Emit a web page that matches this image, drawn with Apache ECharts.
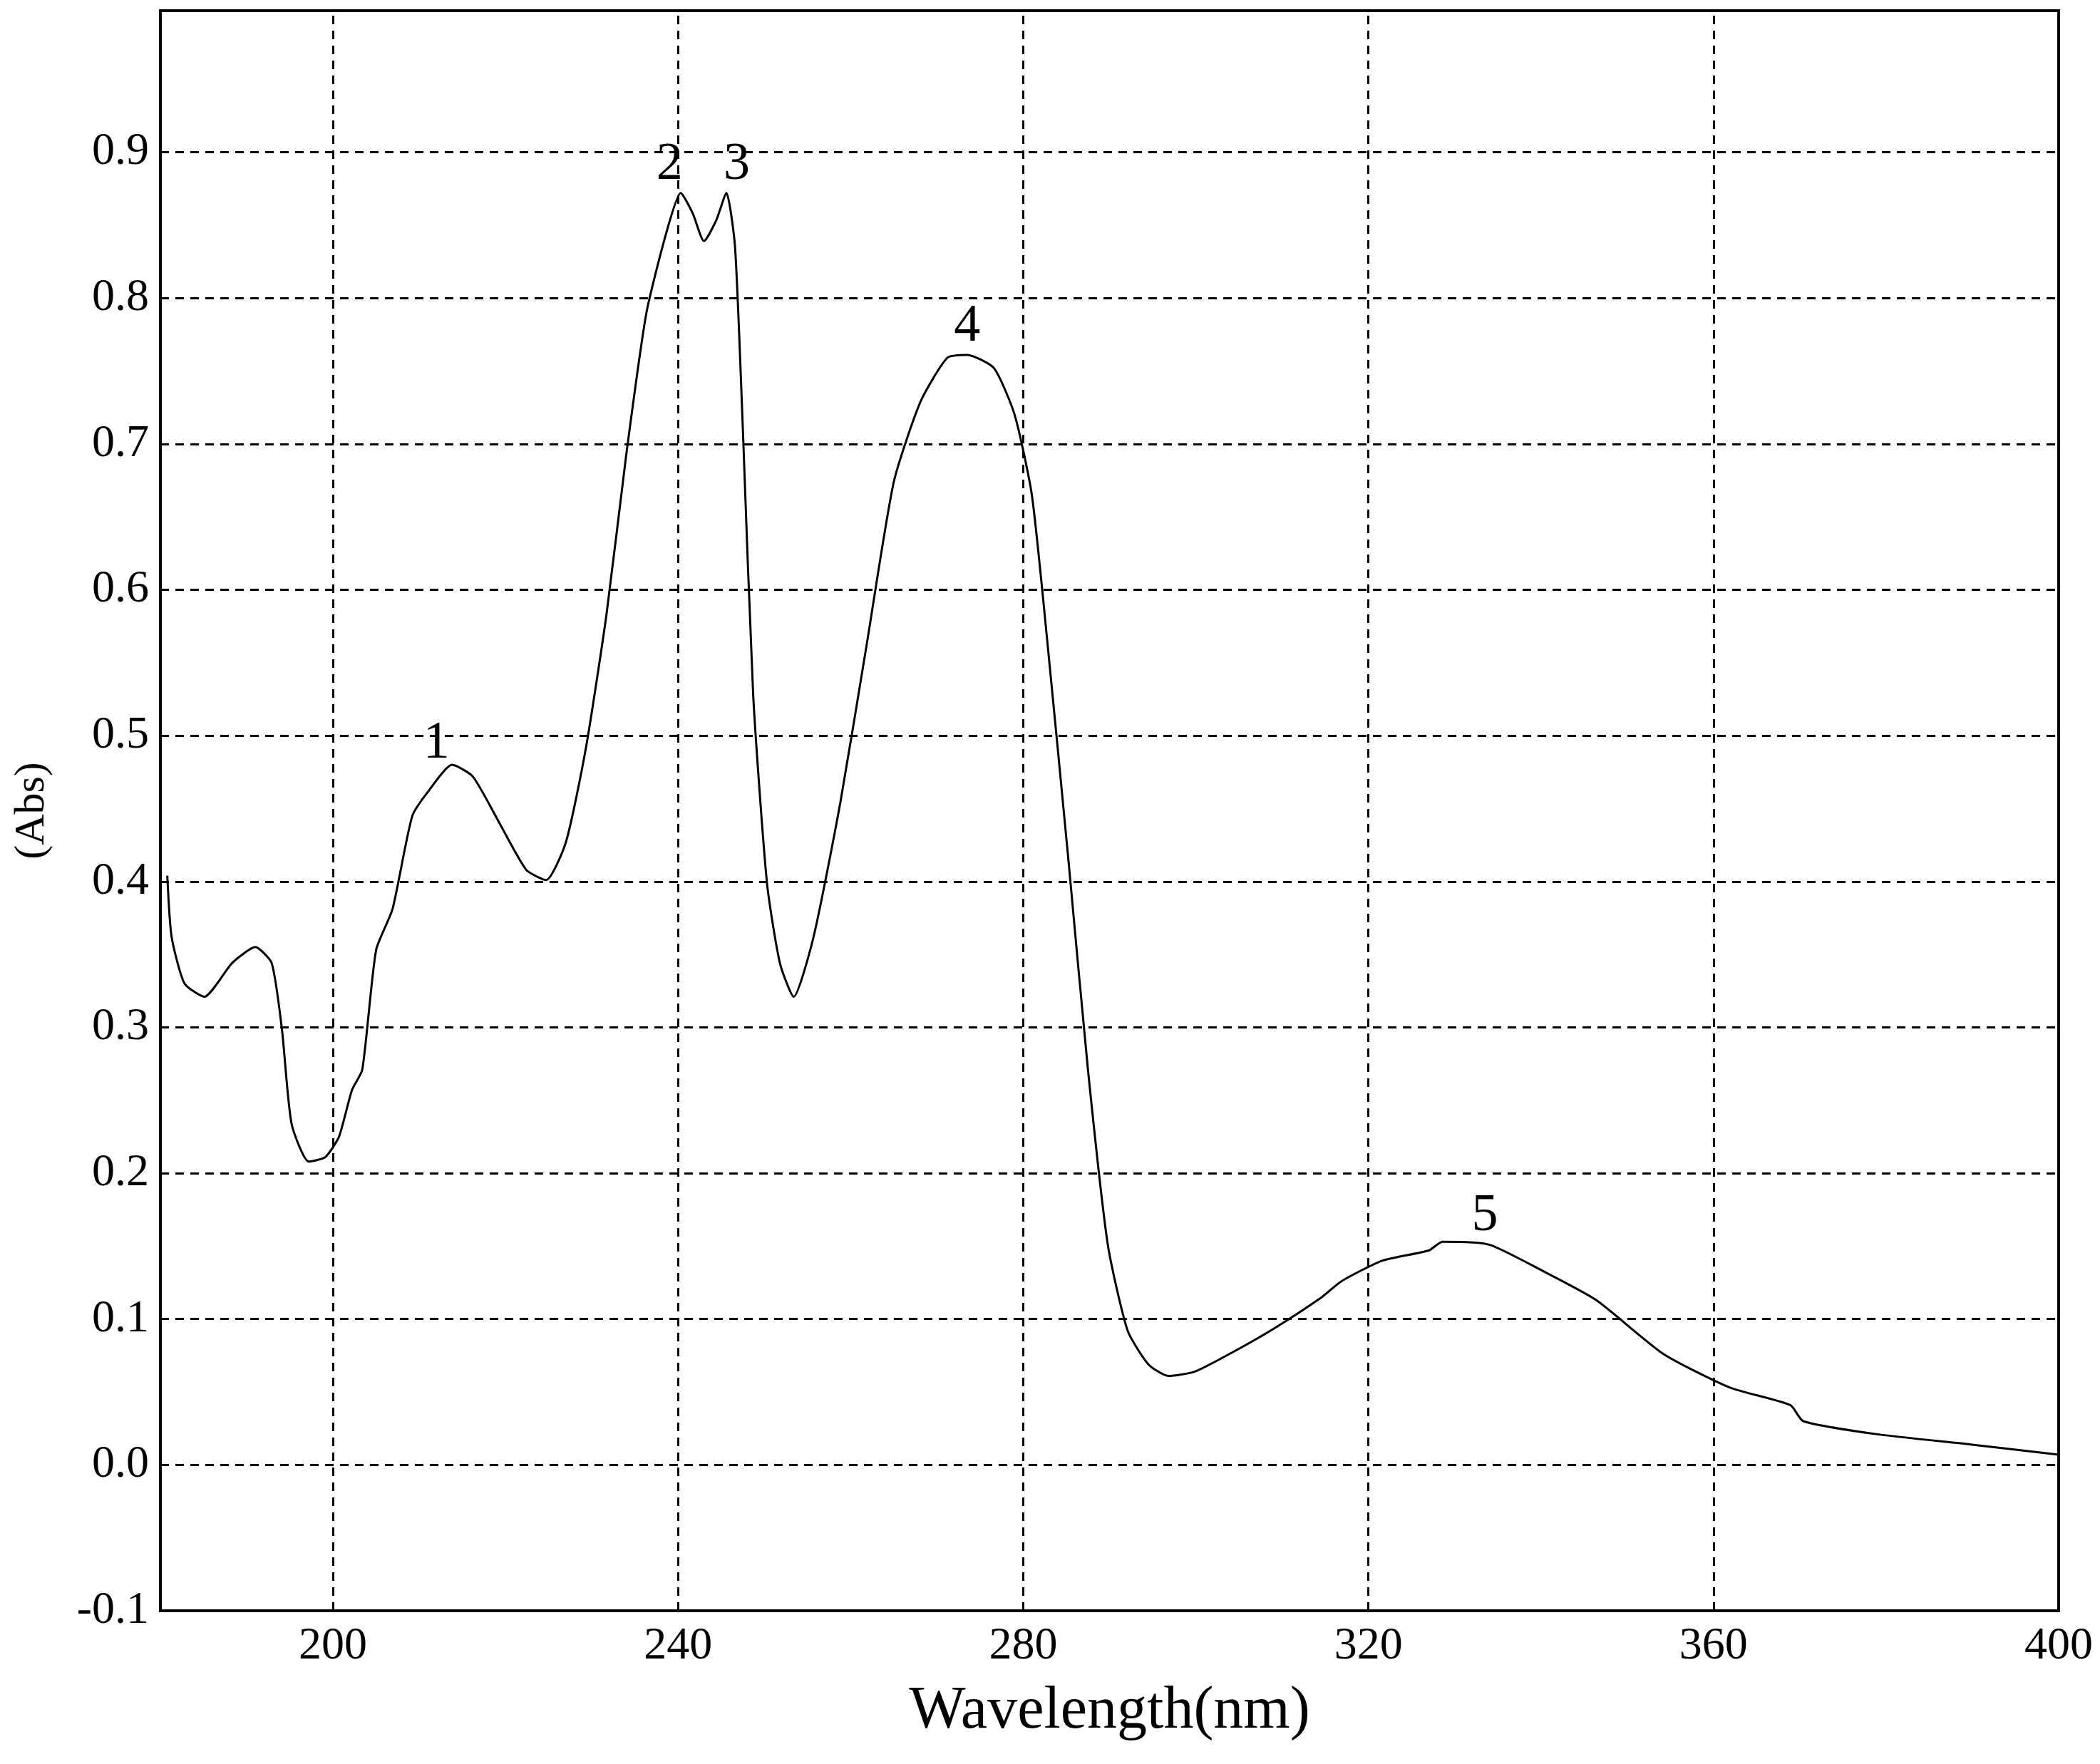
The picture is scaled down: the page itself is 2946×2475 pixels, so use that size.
<!DOCTYPE html>
<html>
<head>
<meta charset="utf-8">
<script src="https://cdn.jsdelivr.net/npm/echarts@6/dist/echarts.min.js"></script>
<style>html,body{margin:0;padding:0;background:#fff}#chart{width:2946px;height:2475px}</style>
</head>
<body>
<div id="chart"></div>
<script>
// spectrum
var wavelength = [180.8,181.3,182.8,185.1,188.3,191.0,192.9,194.1,195.2,197.2,199.1,200.7,202.2,203.4,205.0,206.9,209.2,211.2,213.8,216.2,219.3,222.4,224.7,227.0,229.3,231.7,234.0,236.3,238.6,240.3,241.7,243.0,244.4,245.6,246.6,247.5,248.7,250.3,251.8,253.4,255.7,258.8,261.9,265.0,268.1,271.2,273.5,276.6,279.0,281.0,282.8,285.2,287.5,289.8,292.1,294.5,296.8,299.9,304.5,309.2,314.6,316.9,321.6,327.0,328.6,334.0,340.2,346.4,354.2,361.9,368.9,370.4,379.0,389.8,400];
var absorbance = [0.404,0.362,0.330,0.321,0.344,0.355,0.344,0.298,0.234,0.208,0.211,0.225,0.257,0.271,0.353,0.381,0.445,0.463,0.480,0.472,0.440,0.408,0.401,0.427,0.491,0.583,0.693,0.789,0.844,0.872,0.858,0.839,0.853,0.872,0.835,0.711,0.528,0.399,0.344,0.321,0.362,0.454,0.564,0.674,0.729,0.759,0.761,0.752,0.720,0.665,0.564,0.417,0.271,0.151,0.092,0.069,0.061,0.064,0.078,0.094,0.115,0.126,0.140,0.147,0.153,0.151,0.133,0.113,0.076,0.053,0.041,0.030,0.021,0.014,0.007];
var peakNames = ['1','2','3','4','5'];
var peakX = [212.0,239.0,246.8,273.5,333.5];
var peakY = [0.475,0.872,0.872,0.761,0.151];
var xGridLines = [200,240,280,320,360];

var font = 'Liberation Serif';
var data = wavelength.map(function(w,i){ return [w, absorbance[i]]; });

var chart = echarts.init(document.getElementById('chart'));
chart.setOption({
	animation:false,
	grid:{left:225,right:58,top:15,bottom:215,show:true,borderColor:'#000',borderWidth:4,outerBoundsMode:'none',containLabel:false},
	xAxis:{
		type:'value',min:180,max:400,interval:20,
		name:'Wavelength(nm)',nameLocation:'middle',nameGap:100,
		nameTextStyle:{fontFamily:font,fontSize:84,color:'#000'},
		axisLine:{show:true,onZero:false,lineStyle:{color:'#000',width:4}},
		axisTick:{show:false},
		splitLine:{show:false},
		axisLabel:{fontFamily:font,fontSize:64,color:'#000',margin:18,
			formatter:function(v){ return (v>=200 && Math.round(v)%40===0) ? Math.round(v) : ''; }}
	},
	yAxis:{
		type:'value',min:-0.1,max:0.997,interval:0.1,
		name:'(Abs)',nameLocation:'middle',nameGap:150,
		nameTextStyle:{fontFamily:font,fontSize:60,color:'#000'},
		axisLine:{show:true,lineStyle:{color:'#000',width:4}},
		axisTick:{show:false},
		splitLine:{show:true,lineStyle:{color:'#000',width:3,type:[12,9]}},
		axisLabel:{fontFamily:font,fontSize:64,color:'#000',margin:16,
			formatter:function(v){ return v>0.95 ? '' : v.toFixed(1); }}
	},
	series:[{
		type:'line',data:data,symbol:'none',smooth:0.2,
		lineStyle:{color:'#000',width:3},
		markLine:{
			silent:true,symbol:'none',label:{show:false},
			lineStyle:{color:'#000',width:3,type:[12,9]},
			data:xGridLines.map(function(x){ return {xAxis:x}; })
		},
		markPoint:{
			symbol:'circle',symbolSize:1,itemStyle:{color:'rgba(0,0,0,0)'},
			label:{show:true,position:'top',distance:2,fontFamily:font,fontSize:74,color:'#000',formatter:'{b}'},
			data:peakNames.map(function(n,i){ return {name:n,coord:[peakX[i],peakY[i]]}; })
		}
	}]
});
</script>
</body>
</html>
